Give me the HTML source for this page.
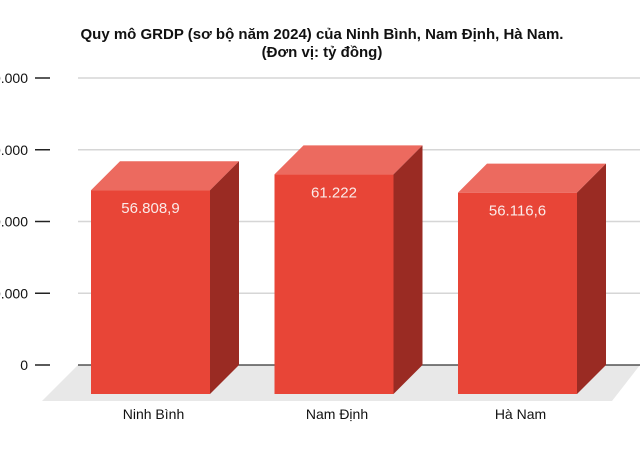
<!DOCTYPE html>
<html><head><meta charset="utf-8"><style>
html,body{margin:0;padding:0;background:#fff;}
svg{display:block;font-family:"Liberation Sans",Arial,sans-serif;}
</style></head><body>
<svg id="chart" width="640" height="460" viewBox="0 0 640 460">
<text x="322" y="39" text-anchor="middle" font-size="15" font-weight="bold" fill="#111">Quy mô GRDP (sơ bộ năm 2024) của Ninh Bình, Nam Định, Hà Nam.</text>
<text x="322" y="57" text-anchor="middle" font-size="15" font-weight="bold" fill="#111">(Đơn vị: tỷ đồng)</text>
<g id="floor"></g><g id="grid"></g><g id="bars"></g>
</svg>
<script>
const categories = ["Ninh Bình","Nam Định","Hà Nam"];
const values = [56808.9, 61222, 56116.6];
const valueLabels = ["56.808,9","61.222","56.116,6"];
const ticks = [0,20000,40000,60000,80000];
const tickLabels = ["0","20.000","40.000","60.000","80.000"];
const NS="http://www.w3.org/2000/svg";
const y0=365, pxPer=71.75/20000, dx=29, dy=-29;
const yScale=v=>y0-v*pxPer;
const xFront=i=>91+i*183.5, bw=119;
function mk(tag,attrs,parent){const e=document.createElementNS(NS,tag);for(const k in attrs)e.setAttribute(k,attrs[k]);parent.appendChild(e);return e;}
const floor=document.getElementById('floor'), grid=document.getElementById('grid'), bars=document.getElementById('bars');
const fl=mk('polygon',{points:"78,365 640,365 612,401 42,401",fill:"#e8e8e8"},floor);


ticks.forEach((t,i)=>{
  const y=yScale(t);
  const g=mk('line',{x1:78,x2:640,y1:y,y2:y,stroke:i===0?"#333":"#d6d6d6","stroke-width":i===0?1.2:1.5},grid);
  
  
  const tk=mk('line',{x1:35,x2:50,y1:y,y2:y,stroke:"#222","stroke-width":1.5},grid);
  
  
  const tx=mk('text',{x:28,y:y+5,"text-anchor":"end","font-size":14,fill:"#111"},grid);
  tx.textContent=tickLabels[i];
  
  
});
values.forEach((v,i)=>{
  const x=xFront(i), yt=yScale(v)-dy, yb=y0-dy;
  const g=mk('g',{},bars);
  
  
  mk('polygon',{points:`${x},${yt} ${x+dx},${yt+dy} ${x+bw+dx},${yt+dy} ${x+bw},${yt}`,fill:"#ec6a5f"},g);
  mk('polygon',{points:`${x+bw},${yt} ${x+bw+dx},${yt+dy} ${x+bw+dx},${yb+dy} ${x+bw},${yb}`,fill:"#9a2b23"},g);
  mk('rect',{x:x,y:yt,width:bw,height:yb-yt,fill:"#e84537"},g);
  const vl=mk('text',{x:x+bw/2,y:yt+23,"text-anchor":"middle","font-size":15,fill:"#fbeae8"},g);
  vl.textContent=valueLabels[i];
  
  
  const cl=mk('text',{x:x+bw/2+3,y:419,"text-anchor":"middle","font-size":14,fill:"#111"},bars);
  cl.textContent=categories[i];
  
  
});
</script>
</body></html>
